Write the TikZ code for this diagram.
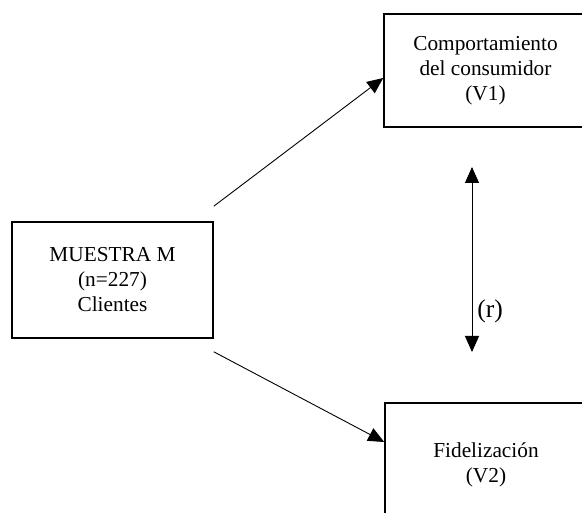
\documentclass[tikz,border=0pt]{standalone}
\usepackage{fontspec}
\setmainfont{Liberation Serif}
\usetikzlibrary{calc,
	arrows.meta}

\tikzset{
	caja/.style={draw, line width=1.6pt, align=center, inner sep=0pt},
	flecha/.style={line width=0.9pt, -{Triangle[length=16pt,width=14pt]}},
}

\begin{document}
\begin{tikzpicture}[x=1pt, y=-1pt, font=\fontsize{21.3}{25}\selectfont]
	\useasboundingbox (0, 0) rectangle (582, 513);
	\node[caja, minimum width=201pt, minimum height=116pt] (muestra) at (112.5, 280) {MUESTRA M\\(n=227)\\Clientes};
	\node[caja, minimum width=203pt, minimum height=113pt] (v1) at (485.5, 70.5) {Comportamiento\\del consumidor\\(V1)};
	\node[caja, minimum width=202pt, minimum height=124pt] (v2) at (486, 465) {Fidelizaci\'on\\(V2)};
	\coordinate (a1) at ($(muestra.north east)+(0,-15)$);
	\coordinate (a2) at ($(muestra.south east)+(0,13)$);
	\coordinate (r1) at (472, 167);
	\coordinate (r2) at (472, 352);
	\draw[flecha] (a1) -- ($(v1.west)+(0,7.5)$);
	\draw[flecha] (a2) -- ($(v2.west)+(0,-23)$);
	\draw[line width=0.9pt, {Triangle[length=16pt,width=14pt]}-{Triangle[length=16pt,width=14pt]}] (r1) -- (r2)
		node[pos=0.78, right=5pt, inner sep=0pt, font=\fontsize{25.5}{27}\selectfont] (rlab) {(r)};
\end{tikzpicture}
\end{document}
